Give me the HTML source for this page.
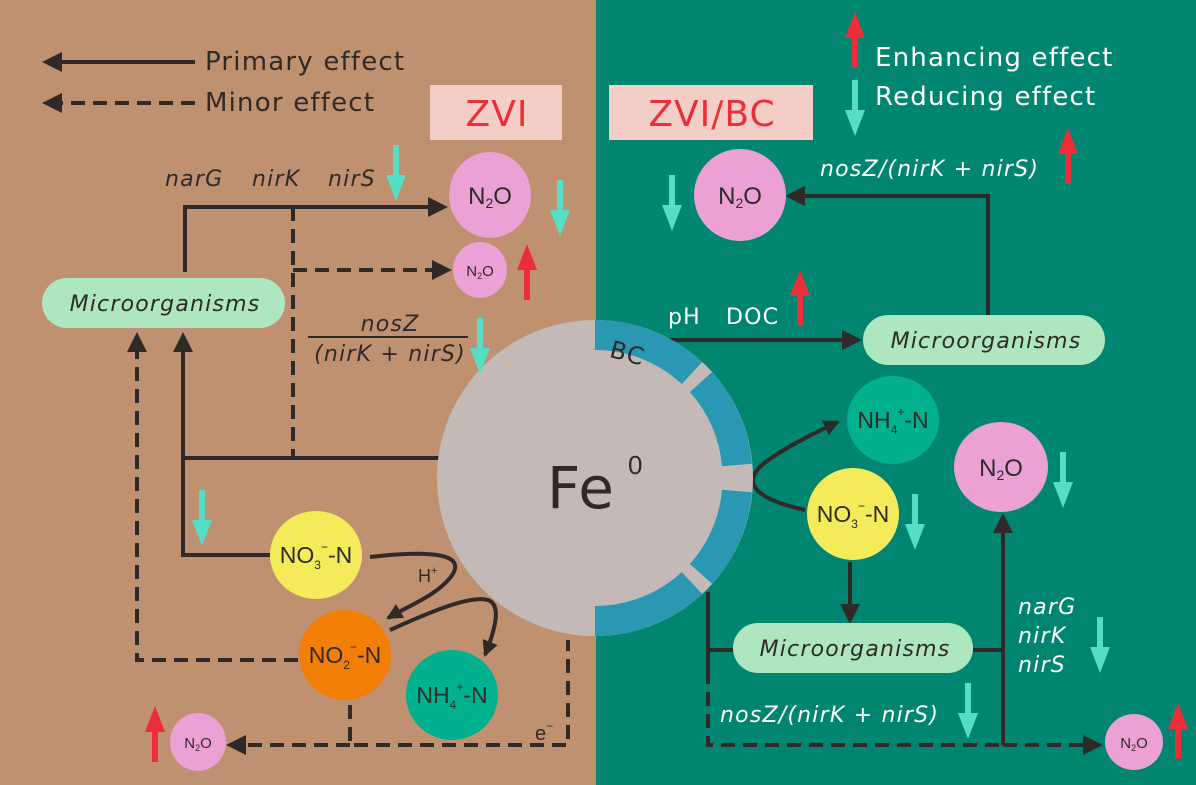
<!DOCTYPE html>
<html><head><meta charset="utf-8"><style>
html,body{margin:0;padding:0;width:1196px;height:785px;overflow:hidden}
svg{display:block;font-family:"Liberation Sans",sans-serif}
.it{font-style:italic}
.ls{letter-spacing:1.2px;font-family:"DejaVu Sans",sans-serif}
.ls2{letter-spacing:1px;font-family:"DejaVu Sans",sans-serif}
</style></head><body>
<svg width="1196" height="785" viewBox="0 0 1196 785" xmlns="http://www.w3.org/2000/svg">
<defs>
<marker id="ah" markerWidth="5" markerHeight="5" refX="4" refY="2.5" orient="auto" markerUnits="strokeWidth"><path d="M0,0 L5,2.5 L0,5 Z" fill="#2f2a28"/></marker>
<marker id="ahl" markerWidth="4" markerHeight="4" refX="3.5" refY="2" orient="auto" markerUnits="strokeWidth"><path d="M0,0 L4,2 L0,4 Z" fill="#2f2a28"/></marker>
<g id="tdown"><rect x="-3" y="0" width="6" height="34" fill="#55DEC3"/><path d="M-10,30 L10,30 L0,56 Z" fill="#55DEC3"/></g>
<g id="rup"><rect x="-3" y="22" width="6" height="34" fill="#EC2E3A"/><path d="M-10,26 L10,26 L0,0 Z" fill="#EC2E3A"/></g>
</defs>
<rect x="0" y="0" width="596" height="785" fill="#C09170"/>
<rect x="596" y="0" width="600" height="785" fill="#008570"/>

<g stroke="#2f2a28" stroke-width="4" fill="none">
<line x1="195" y1="62" x2="46" y2="62" marker-end="url(#ah)"/>
<line x1="195" y1="103" x2="46" y2="103" stroke-dasharray="14,8" marker-end="url(#ah)"/>
<polyline points="185,272 185,207 444,207" marker-end="url(#ah)"/>
<line x1="293" y1="207" x2="293" y2="458" stroke-dasharray="14,8"/>
<line x1="293" y1="270" x2="448" y2="270" stroke-dasharray="14,8" marker-end="url(#ah)"/>
<line x1="183" y1="458" x2="440" y2="458"/>
<line x1="183" y1="458" x2="183" y2="336" marker-end="url(#ah)"/>
<polyline points="183,458 183,555 270,555"/>
<polyline points="298,660 137,660 137,336" stroke-dasharray="14,8" marker-end="url(#ah)"/>
<line x1="308" y1="337" x2="468" y2="337" stroke-width="2"/>
<path d="M370,557 C430,550 470,553 450,578 C435,596 410,605 388,618" marker-end="url(#ahl)"/>
<path d="M390,630 C430,612 470,595 488,600 C502,605 495,630 485,655" marker-end="url(#ahl)"/>
<polyline points="350,705 350,745 568,745 568,640" stroke-dasharray="14,8"/>
<line x1="350" y1="745" x2="230" y2="745" stroke-dasharray="14,8" marker-end="url(#ah)"/>
<polyline points="988,315 988,196 789,196" marker-end="url(#ah)"/>
<line x1="660" y1="340" x2="858" y2="340" marker-end="url(#ah)"/>
<path d="M805,510 C760,500 740,485 762,465 C780,450 810,435 838,422" marker-end="url(#ahl)"/>
<line x1="850" y1="562" x2="850" y2="620" marker-end="url(#ah)"/>
<line x1="708" y1="592" x2="708" y2="670"/>
<line x1="708" y1="650" x2="733" y2="650"/>
<polyline points="708,670 708,745 1003,745" stroke-dasharray="14,8"/>
<line x1="1003" y1="745" x2="1003" y2="517" marker-end="url(#ah)"/>
<line x1="973" y1="650" x2="1003" y2="650"/>
<line x1="1003" y1="745" x2="1099" y2="745" stroke-dasharray="14,8" marker-end="url(#ah)"/>
</g>

<circle cx="595" cy="478" r="158" fill="#C3BAB8"/>
<g fill="none" stroke="#2A98B3" stroke-width="30">
<path d="M595,335 A143,143 0 0 1 692,373"/>
<path d="M701,382 A143,143 0 0 1 737,465"/>
<path d="M737,491 A143,143 0 0 1 701,574"/>
<path d="M692,583 A143,143 0 0 1 595,621"/>
</g>
<text x="610" y="360" font-size="24" fill="#2f2a28" class="ls" transform="rotate(15 622 352)">BC</text>
<text x="547" y="508" font-size="58" fill="#2f2a28" class="ls2">Fe</text>
<text x="628" y="474" font-size="26" fill="#2f2a28">0</text>

<g font-size="26" fill="#2f2a28" class="ls"><text x="205" y="70">Primary effect</text><text x="205" y="111">Minor effect</text></g>
<g font-size="26" fill="#fff" class="ls"><text x="875" y="66">Enhancing effect</text><text x="875" y="105">Reducing effect</text></g>
<use href="#rup" x="855" y="12"/><use href="#tdown" x="855" y="80"/>

<rect x="430" y="85" width="132" height="55" fill="#F3CEC6"/>
<text x="497" y="126" font-size="36" fill="#E8303A" text-anchor="middle" class="ls2">ZVI</text>
<rect x="609" y="85" width="204" height="55" fill="#F3CEC6"/>
<text x="712" y="126" font-size="36" fill="#E8303A" text-anchor="middle" class="ls2">ZVI/BC</text>

<g class="it ls" font-size="22" fill="#2f2a28"><text x="165" y="186">narG</text><text x="252" y="186">nirK</text><text x="328" y="186">nirS</text>
<text x="390" y="331" text-anchor="middle">nosZ</text>
<text x="390" y="361" text-anchor="middle">(nirK + nirS)</text></g>
<use href="#tdown" x="396" y="145"/>
<use href="#tdown" x="560" y="180"/>
<use href="#rup" x="527" y="244"/>
<use href="#tdown" x="480" y="318"/>
<use href="#tdown" x="202" y="490"/>
<use href="#rup" x="155" y="706"/>

<rect x="42" y="278" width="243" height="50" rx="25" fill="#AEE6BF"/>
<text x="165" y="311" font-size="22" class="it ls" fill="#2f2a28" text-anchor="middle">Microorganisms</text>
<rect x="863" y="315" width="242" height="50" rx="25" fill="#AEE6BF"/>
<text x="986" y="348" font-size="22" class="it ls" fill="#2f2a28" text-anchor="middle">Microorganisms</text>
<rect x="733" y="623" width="240" height="50" rx="25" fill="#AEE6BF"/>
<text x="855" y="656" font-size="22" class="it ls" fill="#2f2a28" text-anchor="middle">Microorganisms</text>

<g fill="#2f2a28">
<ellipse cx="490" cy="195" rx="41" ry="43" fill="#EBA0D6"/>
<text x="490" y="204" font-size="24" text-anchor="middle">N<tspan font-size="14" dy="4">2</tspan><tspan dy="-4">O</tspan></text>
<ellipse cx="480" cy="270" rx="27" ry="28" fill="#EBA0D6"/>
<text x="480" y="276" font-size="15" text-anchor="middle">N<tspan font-size="9" dy="3">2</tspan><tspan dy="-3">O</tspan></text>
<ellipse cx="198" cy="742" rx="28" ry="29" fill="#EBA0D6"/>
<text x="198" y="748" font-size="15" text-anchor="middle">N<tspan font-size="9" dy="3">2</tspan><tspan dy="-3">O</tspan></text>
<ellipse cx="316" cy="555" rx="46" ry="44" fill="#F4EB5A"/>
<text x="316" y="563" font-size="23" text-anchor="middle">NO<tspan font-size="12" dy="6">3</tspan><tspan font-size="12" dy="-18">−</tspan><tspan dy="12">-N</tspan></text>
<ellipse cx="345" cy="655" rx="46" ry="45" fill="#F27F05"/>
<text x="345" y="663" font-size="23" text-anchor="middle">NO<tspan font-size="12" dy="6">2</tspan><tspan font-size="12" dy="-18">−</tspan><tspan dy="12">-N</tspan></text>
<ellipse cx="452" cy="695" rx="46" ry="45" fill="#00B08F"/>
<text x="452" y="703" font-size="23" text-anchor="middle">NH<tspan font-size="12" dy="6">4</tspan><tspan font-size="12" dy="-18">+</tspan><tspan dy="12">-N</tspan></text>
<text x="418" y="582" font-size="18">H<tspan font-size="11" dy="-8">+</tspan></text>
<text x="535" y="740" font-size="20">e<tspan font-size="12" dy="-10">−</tspan></text>

<ellipse cx="740" cy="195" rx="46" ry="46" fill="#EBA0D6"/>
<text x="740" y="204" font-size="24" text-anchor="middle">N<tspan font-size="14" dy="4">2</tspan><tspan dy="-4">O</tspan></text>
<ellipse cx="893" cy="420" rx="46" ry="44" fill="#00B08F"/>
<text x="893" y="428" font-size="23" text-anchor="middle">NH<tspan font-size="12" dy="6">4</tspan><tspan font-size="12" dy="-18">+</tspan><tspan dy="12">-N</tspan></text>
<ellipse cx="853" cy="514" rx="46" ry="46" fill="#F4EB5A"/>
<text x="853" y="522" font-size="23" text-anchor="middle">NO<tspan font-size="12" dy="6">3</tspan><tspan font-size="12" dy="-18">−</tspan><tspan dy="12">-N</tspan></text>
<ellipse cx="1001" cy="467" rx="47" ry="45" fill="#EBA0D6"/>
<text x="1001" y="476" font-size="24" text-anchor="middle">N<tspan font-size="14" dy="4">2</tspan><tspan dy="-4">O</tspan></text>
<ellipse cx="1134" cy="742" rx="29" ry="28" fill="#EBA0D6"/>
<text x="1134" y="748" font-size="15" text-anchor="middle">N<tspan font-size="9" dy="3">2</tspan><tspan dy="-3">O</tspan></text>
</g>

<g fill="#fff" font-size="22" class="ls">
<text x="820" y="176" class="it">nosZ/(nirK + nirS)</text>
<text x="668" y="324">pH</text><text x="726" y="324">DOC</text>
<text x="1018" y="614" class="it">narG</text><text x="1018" y="643" class="it">nirK</text><text x="1018" y="672" class="it">nirS</text>
<text x="720" y="722" class="it">nosZ/(nirK + nirS)</text>
</g>
<use href="#rup" x="1068" y="128"/>
<use href="#tdown" x="672" y="175"/>
<use href="#rup" x="800" y="270"/>
<use href="#tdown" x="915" y="494"/>
<use href="#tdown" x="1063" y="452"/>
<use href="#tdown" x="1100" y="617"/>
<use href="#tdown" x="968" y="683"/>
<use href="#rup" x="1178" y="703"/>
</svg>
</body></html>
